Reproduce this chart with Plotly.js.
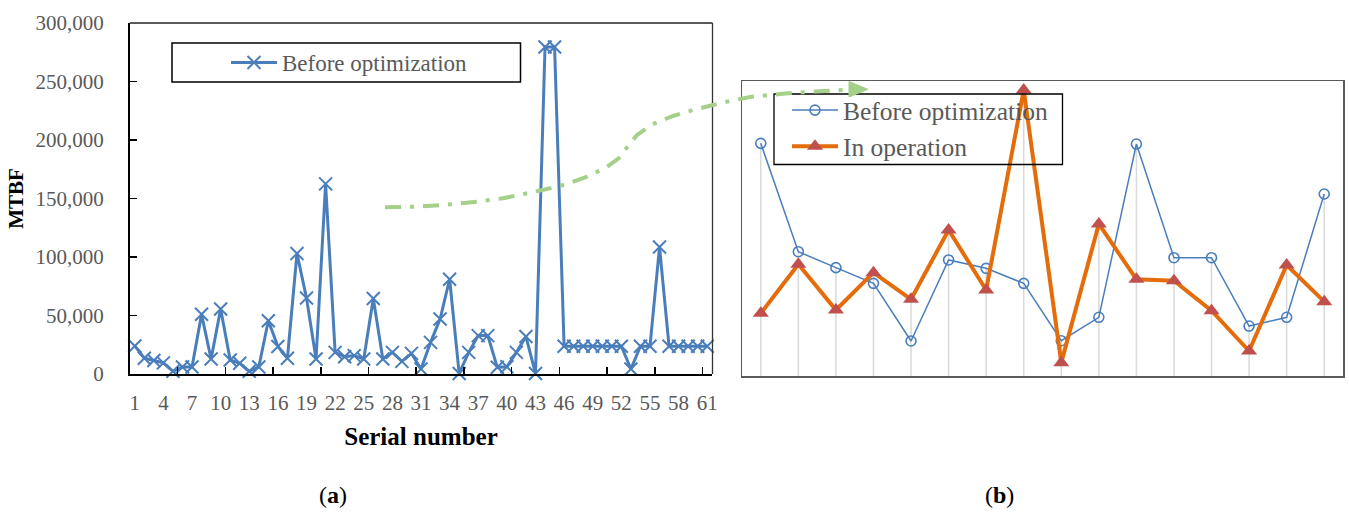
<!DOCTYPE html>
<html>
<head>
<meta charset="utf-8">
<script src="https://cdn.plot.ly/plotly-3.0.1.min.js"></script>
<style>html,body{margin:0;padding:0;background:#fff;}#chart{width:1349px;height:514px;}</style>
</head>
<body>
<div id="chart"></div>
<script>
// ---------- Data (a) ----------
const serialTickLabels = [1,4,7,10,13,16,19,22,25,28,31,34,37,40,43,46,49,52,55,58,61];
const mtbfBefore = [
  24000, 13500, 11500, 9500, 2300, 6000, 6000, 51000, 12800, 55500,
  12000, 9200, 2300, 6000, 45500, 23500, 13500, 103000, 65000, 12800,
  162500, 18500, 14800, 15700, 12800, 64500, 12800, 18500, 10800, 17600,
  4300, 27000, 47000, 81000, 500, 18500, 32800, 32800, 5700, 6200,
  18500, 32000, 500, 279500, 279500, 23700, 23700, 23700, 23700, 23700,
  23700, 23700, 4300, 23700, 23700, 108500, 23700, 23700, 23700, 23700,
  23700
];
const serialNumbers = mtbfBefore.map((v, i) => i + 1);
const yTickVals = [0, 50000, 100000, 150000, 200000, 250000, 300000];

// ---------- Data (b) ----------
const bBefore = [236.6, 126.4, 110.2, 94.2, 35.6, 118.0, 109.5, 94.2, 35.9, 59.7, 235.9, 120.3, 120.3, 50.8, 59.7, 185.1];
const bOperation = [63.8, 113.6, 67.1, 105.1, 78.0, 148.5, 87.5, 290.8, 13.6, 154.6, 98.3, 96.9, 66.4, 25.4, 112.9, 75.6];
const bCategories = bBefore.map((v, i) => i + 1);

// ---------- helpers ----------
const W = 1349, H = 514;
const px = x => x / W;
const py = y => 1 - y / H;

const FONT = 'Liberation Serif, Times New Roman, serif';
const GRAY = '#595959';
const BLUE = '#4A7EBB';

// drop lines for (b): from axis to the higher of both series
const dropX = [], dropY = [];
bCategories.forEach((c, i) => {
  dropX.push(c, c, null);
  dropY.push(0, Math.max(bBefore[i], bOperation[i]), null);
});

const traces = [
  {
    x: serialNumbers, y: mtbfBefore, xaxis: 'x', yaxis: 'y',
    type: 'scatter', mode: 'lines+markers', name: 'Before optimization',
    line: {color: BLUE, width: 3},
    marker: {symbol: 'x-thin-open', size: 13, line: {color: BLUE, width: 2}, color: BLUE},
    legend: 'legend', cliponaxis: false
  },
  {
    x: dropX, y: dropY, xaxis: 'x2', yaxis: 'y2', type: 'scatter', mode: 'lines',
    line: {color: '#D9D9D9', width: 1.5}, showlegend: false, hoverinfo: 'skip', connectgaps: false
  },
  {
    x: bCategories, y: bBefore, xaxis: 'x2', yaxis: 'y2',
    type: 'scatter', mode: 'lines+markers', name: 'Before optimization',
    line: {color: BLUE, width: 1.5},
    marker: {symbol: 'circle-open', size: 10, line: {color: BLUE, width: 1.6}},
    legend: 'legend2', legendgroup: 'g1', cliponaxis: false
  },
  {
    x: bCategories, y: bOperation, xaxis: 'x2', yaxis: 'y2',
    type: 'scatter', mode: 'lines+markers', name: 'In operation',
    line: {color: '#E46C0A', width: 4},
    marker: {symbol: 'triangle-up', size: 14, color: '#C0504D'},
    legend: 'legend2', legendgroup: 'g2', cliponaxis: false
  }
];

// green dash-dot arrow path (decoration between the panels)
const arrowPts = [[385,207.3],[413,206.7],[443,205],[477,201.7],[503,198.3],[527,193.3],[547,189],[567,184],[587,176.7],[607,167],[619,158],[628,146],[637,135],[652,124.5],[673,116],[693,110],[713,105],[730,101],[750,97],[780,94],[810,91.7],[852,89.5]];
const arrowPath = arrowPts.map((p, i) => (i ? 'L' : 'M') + px(p[0]).toFixed(5) + ',' + py(p[1]).toFixed(5)).join(' ');
const headPath = 'M' + px(849) + ',' + py(81.5) + ' L' + px(868) + ',' + py(89.3) + ' L' + px(849) + ',' + py(97) + ' Z';

const layout = {
  width: W, height: H,
  margin: {l: 0, r: 0, t: 0, b: 0},
  paper_bgcolor: '#fff', plot_bgcolor: 'rgba(0,0,0,0)',
  font: {family: FONT, color: GRAY},
  showlegend: true,
  xaxis: {
    domain: [px(130), px(712)], range: [0.5, 61.5], anchor: 'y',
    tickvals: serialTickLabels, ticktext: serialTickLabels.map(String),
    ticks: '', showgrid: false, zeroline: false,
    showline: true, linecolor: '#000', linewidth: 2,
    tickfont: {family: FONT, size: 21, color: GRAY}, ticklabelstandoff: 9,
    minor: {tickvals: [5.5,10.5,15.5,20.5,25.5,30.5,35.5,40.5,45.5,50.5,55.5,60.5], ticks: 'inside', ticklen: 7, tickwidth: 1.5, tickcolor: '#000', showgrid: false},
    title: {text: '<b>Serial number</b>', font: {family: FONT, size: 25, color: '#000'}, standoff: 13}
  },
  yaxis: {
    domain: [py(374), py(23)], range: [0, 300000], anchor: 'x',
    tickvals: yTickVals, tickformat: ',d',
    ticks: 'inside', ticklen: 7, tickwidth: 1.5, tickcolor: '#000',
    showgrid: false, zeroline: false,
    showline: true, linecolor: '#000', linewidth: 2,
    tickfont: {family: FONT, size: 21, color: GRAY}, ticklabelstandoff: 20,
    title: {text: '<b>MTBF</b>', font: {family: FONT, size: 21, color: '#000'}, standoff: 6}
  },
  xaxis2: {
    domain: [px(742), px(1343)], range: [0.5, 16.5], anchor: 'y2',
    showticklabels: false, ticks: '', showgrid: false, zeroline: false,
    showline: true, mirror: true, linecolor: '#595959', linewidth: 1.5
  },
  yaxis2: {
    domain: [py(376), py(81)], range: [0, 300], anchor: 'x2',
    showticklabels: false, ticks: '', showgrid: false, zeroline: false,
    showline: true, mirror: true, linecolor: '#595959', linewidth: 1.5
  },
  legend: {
    x: px(226), y: py(62.5), xanchor: 'left', yanchor: 'middle',
    bgcolor: 'rgba(0,0,0,0)', borderwidth: 0,
    font: {family: FONT, size: 23, color: GRAY}, itemwidth: 46
  },
  legend2: {
    x: px(787), y: py(128.5), xanchor: 'left', yanchor: 'middle',
    bgcolor: 'rgba(0,0,0,0)', borderwidth: 0, traceorder: 'grouped', tracegroupgap: 0,
    font: {family: FONT, size: 25.5, color: GRAY}, itemwidth: 46
  },
  shapes: [
    // (a) top and right frame
    {type: 'line', xref: 'paper', yref: 'paper', x0: px(130), x1: px(712.5), y0: py(23), y1: py(23), line: {color: '#222', width: 1.3}},
    {type: 'line', xref: 'paper', yref: 'paper', x0: px(712.5), x1: px(712.5), y0: py(23), y1: py(374), line: {color: '#333', width: 1.3}},
    // legend boxes
    {type: 'rect', xref: 'paper', yref: 'paper', x0: px(172), x1: px(520.5), y0: py(43), y1: py(82), line: {color: '#000', width: 1.5}, fillcolor: 'rgba(0,0,0,0)'},
    {type: 'rect', xref: 'paper', yref: 'paper', x0: px(774), x1: px(1062.5), y0: py(94), y1: py(164.5), line: {color: '#000', width: 1.3}, fillcolor: 'rgba(0,0,0,0)'},
    // green arrow
    {type: 'path', xref: 'paper', yref: 'paper', path: arrowPath, line: {color: '#A5D08A', width: 4, dash: '16px,9px,4px,9px'}},
    {type: 'path', xref: 'paper', yref: 'paper', path: headPath, line: {color: '#A5D08A', width: 1}, fillcolor: '#A5D08A'}
  ],
  annotations: [
    {xref: 'paper', yref: 'paper', x: px(317), y: py(510), yanchor: 'bottom', text: '(<b>a</b>)', showarrow: false, font: {family: FONT, size: 24, color: '#000'}},
    {xref: 'paper', yref: 'paper', x: px(1016), y: py(510), yanchor: 'bottom', text: '(<b>b</b>)', showarrow: false, font: {family: FONT, size: 24, color: '#000'}}
  ]
};

Plotly.newPlot('chart', traces, layout, {displayModeBar: false, staticPlot: true});
</script>
</body>
</html>
